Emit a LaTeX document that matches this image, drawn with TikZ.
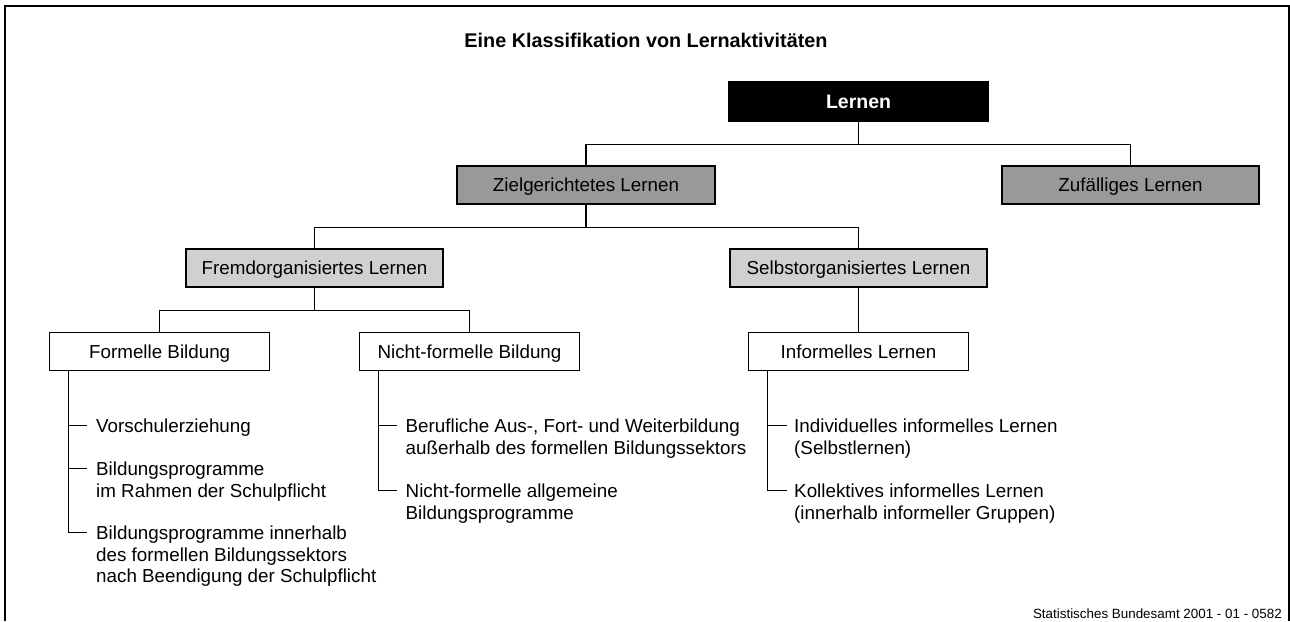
\documentclass[tikz,border=0pt]{standalone}
\usepackage{fontspec}
\setmainfont{Liberation Sans}
\usetikzlibrary{calc}
\definecolor{midgray}{RGB}{153,153,153}
\definecolor{lightgraybox}{RGB}{208,208,208}
\begin{document}
\begin{tikzpicture}[x=1pt,y=-1pt,
  box/.style={draw=black, line width=1.2pt, minimum height=38pt, inner sep=0pt, text height=13.5pt, text depth=0.5pt, font=\fontsize{18.8}{22}\selectfont},
  item/.style={inner sep=0pt, align=left, font=\fontsize{18.8}{21.8}\selectfont, anchor=base west},
  conn/.style={line width=1.2pt}]
\useasboundingbox (0,0) rectangle (1290,621);
\fill[white] (0,0) rectangle (1290,621);
\draw[line width=2pt] (4.5,621) -- (4.5,5.5) -- (1289,5.5) -- (1289,621);

\node[anchor=base, inner sep=0pt, font=\bfseries\fontsize{19.8}{24}\selectfont] (title) at (646,47) {Eine Klassifikation von Lernaktivitäten};

\node[box, fill=black, text=white, font=\bfseries\fontsize{19.5}{22}\selectfont, minimum width=259pt, minimum height=39pt] (lernen) at (858.5,101.5) {Lernen};
\node[box, fill=midgray, minimum width=258pt] (ziel) at (586,185) {Zielgerichtetes Lernen};
\node[box, fill=midgray, minimum width=257pt] (zuf) at (1130.5,185) {Zufälliges Lernen};
\node[box, fill=lightgraybox, minimum width=257pt] (fremd) at (314.5,268) {Fremdorganisiertes Lernen};
\node[box, fill=lightgraybox, minimum width=257pt] (selbst) at (858.5,268) {Selbstorganisiertes Lernen};
\node[box, fill=white, minimum width=220pt] (formell) at (159.7,351.5) {Formelle Bildung};
\node[box, fill=white, minimum width=220pt] (nicht) at (469.5,351.5) {Nicht-formelle Bildung};
\node[box, fill=white, minimum width=220pt] (inform) at (858.5,351.5) {Informelles Lernen};

\draw[conn] (lernen.south) -- ++(0,22.5) -| (ziel.north);
\draw[conn] (lernen.south) -- ++(0,22.5) -| (zuf.north);
\draw[conn] (ziel.south) -- ++(0,22.7) -| (fremd.north);
\draw[conn] (ziel.south) -- ++(0,22.7) -| (selbst.north);
\draw[conn] (fremd.south) -- ++(0,22.7) -| (formell.north);
\draw[conn] (fremd.south) -- ++(0,22.7) -| (nicht.north);
\draw[conn] (selbst.south) -- (inform.north);

% Formelle Bildung list (anchor = baseline of the last line)
\coordinate (ft1) at (87,425.7);
\coordinate (ft2) at (87,468.3);
\coordinate (ft3) at (87,532.3);
\node[item] (f1) at ($(ft1)+(9,7)$) {Vorschulerziehung};
\node[item] (f2) at ($(ft2)+(9,28.8)$) {Bildungsprogramme\\im Rahmen der Schulpflicht};
\node[item] (f3) at ($(ft3)+(9,50.6)$) {Bildungsprogramme innerhalb\\des formellen Bildungssektors\\nach Beendigung der Schulpflicht};
\draw[conn] ([xshift=19pt]formell.south west) |- (ft3);
\draw[conn] (ft1) -- ++(-18,0);
\draw[conn] (ft2) -- ++(-18,0);

% Nicht-formelle Bildung list
\coordinate (nt1) at (397,425.7);
\coordinate (nt2) at (397,490.7);
\node[item] (n1) at ($(nt1)+(8.5,28.8)$) {Berufliche Aus-, Fort- und Weiterbildung\\außerhalb des formellen Bildungssektors};
\node[item] (n2) at ($(nt2)+(8.5,28.8)$) {Nicht-formelle allgemeine\\Bildungsprogramme};
\draw[conn] ([xshift=19.5pt]nicht.south west) |- (nt2);
\draw[conn] (nt1) -- ++(-18,0);

% Informelles Lernen list
\coordinate (it1) at (787,425.7);
\coordinate (it2) at (787,490.7);
\node[item] (i1) at ($(it1)+(7,28.8)$) {Individuelles informelles Lernen\\(Selbstlernen)};
\node[item] (i2) at ($(it2)+(7,28.8)$) {Kollektives informelles Lernen\\(innerhalb informeller Gruppen)};
\draw[conn] ([xshift=19.5pt]inform.south west) |- (it2);
\draw[conn] (it1) -- ++(-19,0);

\node[anchor=base east, inner sep=0pt, font=\fontsize{13.4}{16}\selectfont] (footer) at (1282,618) {Statistisches Bundesamt 2001 - 01 - 0582};
\end{tikzpicture}
\end{document}
